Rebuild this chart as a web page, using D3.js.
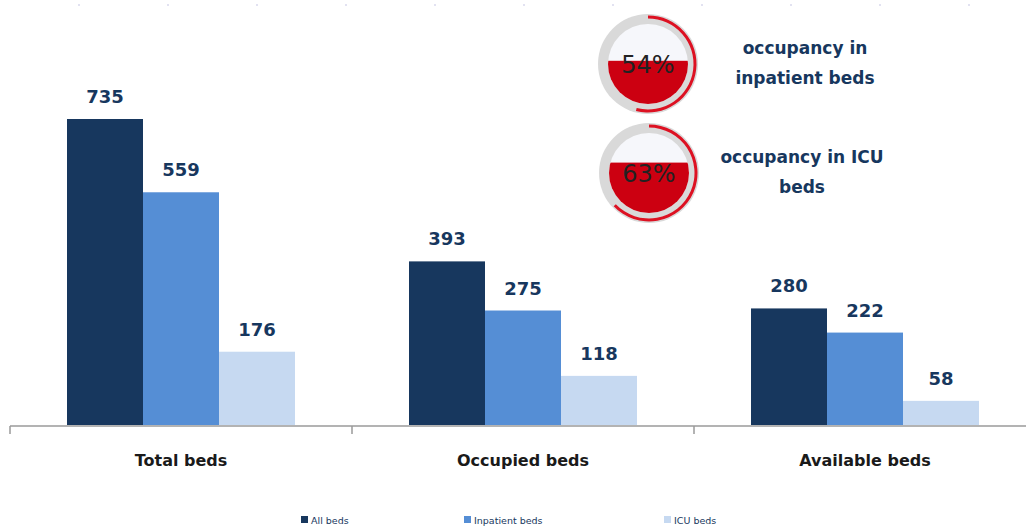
<!DOCTYPE html>
<html>
<head>
<meta charset="utf-8">
<script src="https://cdn.jsdelivr.net/npm/d3@7"></script>
<style>
  body { margin: 0; background: #fff; }
  svg { font-family: "DejaVu Sans", Verdana, sans-serif; }
</style>
</head>
<body>
<div id="chart"></div>
<script>
// data
var categories = ["Total beds", "Occupied beds", "Available beds"];
var seriesNames = ["All beds", "Inpatient beds", "ICU beds"];
var allBeds = [735, 393, 280];
var inpatientBeds = [559, 275, 222];
var icuBeds = [176, 118, 58];
var gaugeValues = [54, 63];
var gaugeLines = [["occupancy in", "inpatient beds"], ["occupancy in ICU", "beds"]];

var width = 1026, height = 526;
var colors = ["#17375E", "#558ED5", "#C6D9F1"];
var labelColor = "#17375E";

var svg = d3.select("#chart").append("svg")
    .attr("width", width)
    .attr("height", height);

var series = [allBeds, inpatientBeds, icuBeds];

var x0 = d3.scaleBand()
    .domain(categories)
    .range([10, 1036])
    .paddingInner(0)
    .paddingOuter(0);

var x1 = d3.scaleBand()
    .domain(d3.range(series.length))
    .range([0, x0.bandwidth()])
    .paddingOuter(0.75)
    .paddingInner(0);

var y = d3.scaleLinear()
    .domain([0, 735])
    .range([425, 119]);

// faint marks at top
svg.append("g")
    .selectAll("circle")
    .data(d3.range(0, 12))
    .enter()
    .append("circle")
    .attr("cx", function(d){ return 79 + d * 89; })
    .attr("cy", 5)
    .attr("r", 1)
    .attr("fill", "#d8d8ec");

// bars
categories.forEach(function(cat, ci){
    var g = svg.append("g").attr("transform", "translate(" + x0(cat) + ",0)");
    series.forEach(function(s, si){
        g.append("rect")
            .attr("x", x1(si))
            .attr("y", y(s[ci]))
            .attr("width", x1.bandwidth())
            .attr("height", y(0) - y(s[ci]))
            .attr("fill", colors[si]);
        g.append("text")
            .attr("x", x1(si) + x1.bandwidth() / 2)
            .attr("y", y(s[ci]) - 16)
            .attr("text-anchor", "middle")
            .attr("font-size", 18)
            .attr("font-weight", "bold")
            .attr("fill", labelColor)
            .text(s[ci]);
    });
});

// x axis
var axis = svg.append("g");
axis.append("line")
    .attr("x1", 10).attr("x2", width)
    .attr("y1", y(0) + 1).attr("y2", y(0) + 1)
    .attr("stroke", "#9a9a9a").attr("stroke-width", 1.5);
axis.selectAll(".tick")
    .data(categories)
    .enter()
    .append("line")
    .attr("x1", function(d){ return x0(d); })
    .attr("x2", function(d){ return x0(d); })
    .attr("y1", y(0) + 1)
    .attr("y2", y(0) + 9)
    .attr("stroke", "#9a9a9a").attr("stroke-width", 1.5);
axis.selectAll(".cat")
    .data(categories)
    .enter()
    .append("text")
    .attr("x", function(d){ return x0(d) + x0.bandwidth() / 2; })
    .attr("y", 466)
    .attr("text-anchor", "middle")
    .attr("font-size", 16)
    .attr("font-weight", "bold")
    .attr("fill", "#1a1a1a")
    .text(function(d){ return d; });

// legend
var legendX = [301, 464, 664];
var legend = svg.append("g");
seriesNames.forEach(function(n, i){
    legend.append("rect")
        .attr("x", legendX[i]).attr("y", 516)
        .attr("width", 7).attr("height", 7)
        .attr("fill", colors[i]);
    legend.append("text")
        .attr("x", legendX[i] + 10).attr("y", 524)
        .attr("font-size", 9.5)
        .attr("fill", labelColor)
        .text(n);
});

// gauges
var gaugeCenters = [[648, 64], [649, 173]];
var arc = d3.arc();
gaugeValues.forEach(function(v, i){
    var cx = gaugeCenters[i][0], cy = gaugeCenters[i][1];
    var g = svg.append("g").attr("transform", "translate(" + cx + "," + cy + ")");
    var rOuter = 50, rInner = 40;
    g.append("circle").attr("r", rOuter).attr("fill", "#d9d9d9");
    g.append("circle").attr("r", rInner).attr("fill", "#f6f7fb");
    var clipId = "clip" + i;
    g.append("clipPath").attr("id", clipId)
        .append("circle").attr("r", rInner);
    // liquid level
    var fillTop = rInner - 2 * rInner * (v / 100);
    g.append("rect")
        .attr("clip-path", "url(#" + clipId + ")")
        .attr("x", -rInner).attr("y", fillTop)
        .attr("width", 2 * rInner).attr("height", rInner - fillTop)
        .attr("fill", "#CC0011");
    g.append("path")
        .attr("d", arc({innerRadius: 45.5, outerRadius: 48.5, startAngle: 0, endAngle: 2 * Math.PI * v / 100}))
        .attr("fill", "#DD1122");
    g.append("text")
        .attr("y", 9)
        .attr("text-anchor", "middle")
        .attr("font-size", 24)
        .attr("fill", "#222")
        .text(v + "%");
    svg.append("text")
        .attr("x", 805)
        .attr("y", cy - 10)
        .attr("text-anchor", "middle")
        .attr("font-size", 17)
        .attr("font-weight", "bold")
        .attr("fill", labelColor)
        .selectAll("tspan")
        .data(gaugeLines[i])
        .enter()
        .append("tspan")
        .attr("x", i === 1 ? 802 : 805)
        .attr("dy", function(d, j){ return j === 0 ? 0 : 30; })
        .text(function(d){ return d; });
});
</script>
</body>
</html>
